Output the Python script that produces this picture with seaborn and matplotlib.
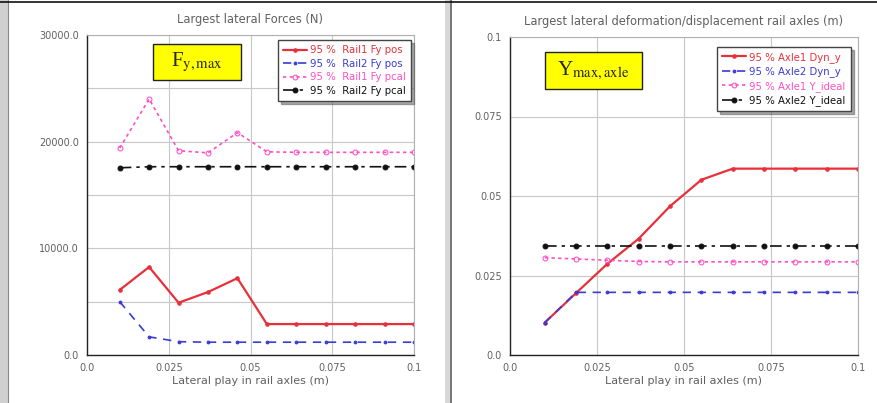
import numpy as np
import pandas as pd
import matplotlib
matplotlib.use("Agg")
import matplotlib.pyplot as plt
import seaborn as sns
from matplotlib.patches import Rectangle
from matplotlib.lines import Line2D

# --------------------------
# Data
# --------------------------
play = [0.010, 0.019, 0.028, 0.037, 0.046, 0.055, 0.064, 0.073, 0.082, 0.091, 0.100]

# left panel: largest lateral forces (N)
force_red = [6100, 8250, 4900, 5900, 7200, 2900, 2900, 2900, 2900, 2900, 2900]
force_blue = [5000, 1700, 1250, 1200, 1200, 1200, 1200, 1200, 1200, 1200, 1200]
force_pink = [19400, 24000, 19150, 18950, 20850, 19050, 19000, 19000, 19000, 19000, 19000]
force_black = [17550, 17650, 17650, 17650, 17650, 17650, 17650, 17650, 17650, 17650, 17650]
force_labels = ["95 %  Rail1 Fy pos", "95 %  Rail2 Fy pos", "95 %  Rail1 Fy pcal", "95 %  Rail2 Fy pcal"]

# right panel: largest lateral displacement (m)
disp_red = [0.0102, 0.0195, 0.0287, 0.0366, 0.0468, 0.0551, 0.0586, 0.0586, 0.0586, 0.0586, 0.0586]
disp_blue = [0.0102, 0.0197, 0.0197, 0.0197, 0.0197, 0.0197, 0.0197, 0.0197, 0.0197, 0.0197, 0.0197]
disp_pink = [0.0306, 0.0302, 0.0298, 0.0294, 0.0293, 0.0293, 0.0293, 0.0293, 0.0293, 0.0293, 0.0293]
disp_black = [0.0344, 0.0344, 0.0344, 0.0344, 0.0344, 0.0344, 0.0344, 0.0344, 0.0344, 0.0344, 0.0344]
disp_labels = ["95 % Axle1 Dyn_y", "95 % Axle2 Dyn_y", "95 % Axle1 Y_ideal", "95 % Axle2 Y_ideal"]

x_ticks = [0.0, 0.025, 0.05, 0.075, 0.1]
x_ticklabels = ["0.0", "0.025", "0.05", "0.075", "0.1"]
f_ticks = [0, 10000, 20000, 30000]
f_ticklabels = ["0.0", "10000.0", "20000.0", "30000.0"]
d_ticks = [0.0, 0.025, 0.05, 0.075, 0.1]
d_ticklabels = ["0.0", "0.025", "0.05", "0.075", "0.1"]

sns.set_style("white")
plt.rcParams['font.family'] = ['DejaVu Sans']
plt.rcParams['mathtext.fontset'] = 'stix'

styles = [
    dict(color="#e8303a", linestyle="-", marker="o", markersize=2.5, linewidth=1.6),
    dict(color="#3a3ad6", linestyle=(0, (5, 4)), marker="o", markersize=2, linewidth=1.2),
    dict(color="#ff4fc4", linestyle=(0, (2, 2)), marker="o", markersize=3.5,
         markerfacecolor="none", linewidth=1.2),
    dict(color="#111111", linestyle=(0, (7, 3, 2, 3)), marker="o", markersize=3.5, linewidth=1.2),
]

txt_col = "#606060"

fig = plt.figure(figsize=(8.78, 4.03), dpi=100)
W, H = 878.0, 403.0


def px_axes(x0, y0, x1, y1):
    return fig.add_axes([x0 / W, 1 - y1 / H, (x1 - x0) / W, (y1 - y0) / H])


ax1 = px_axes(87, 35, 414, 355)
ax2 = px_axes(510, 37, 858, 355)


def draw(ax, series, labels):
    for vals, lab, st in zip(series, labels, styles):
        df = pd.DataFrame({"x": play, "y": vals})
        sns.lineplot(data=df, x="x", y="y", ax=ax, label=lab,
                     markeredgecolor=st["color"], **st)


draw(ax1, [force_red, force_blue, force_pink, force_black], force_labels)
draw(ax2, [disp_red, disp_blue, disp_pink, disp_black], disp_labels)

for ax in (ax1, ax2):
    ax.set_xlim(0, 0.1)
    ax.set_xticks(x_ticks)
    ax.set_xticklabels(x_ticklabels)
    ax.set_xlabel("Lateral play in rail axles (m)", fontsize=8, color=txt_col, labelpad=2)
    ax.set_ylabel("")
    ax.grid(True, which="both", color="#c8c8c8", linewidth=0.8)
    ax.tick_params(axis="both", labelsize=7, colors=txt_col, direction="inout",
                   length=5, width=0.8)
    ax.tick_params(axis="both", which="minor", direction="inout", length=4, width=0.8)
    for side in ("top", "right"):
        ax.spines[side].set_color("#b0b0b0")
        ax.spines[side].set_linewidth(0.8)
    for side in ("left", "bottom"):
        ax.spines[side].set_color("#222222")
        ax.spines[side].set_linewidth(1.0)
    for lab in ax.get_xticklabels() + ax.get_yticklabels():
        lab.set_color(txt_col)

ax1.set_ylim(0, 30000)
ax1.set_yticks(f_ticks)
ax1.set_yticklabels(f_ticklabels)
ax1.set_yticks([5000, 15000, 25000], minor=True)
ax1.set_title("Largest lateral Forces (N)", fontsize=8.3, color=txt_col, pad=9)

ax2.set_ylim(0, 0.1)
ax2.set_yticks(d_ticks)
ax2.set_yticklabels(d_ticklabels)
ax2.set_title("Largest lateral deformation/displacement rail axles (m)", fontsize=8.3,
              color=txt_col, pad=9)

for ax, anchor in ((ax1, (0.997, 0.99)), (ax2, (0.985, 0.975))):
    leg = ax.legend(loc="upper right", bbox_to_anchor=anchor, fontsize=7.3,
                    frameon=True, fancybox=False, shadow={"color": "#555555"},
                    handlelength=2.4, handletextpad=0.3, labelspacing=0.35,
                    borderpad=0.5, borderaxespad=0.2)
    leg.get_frame().set_edgecolor("#444444")
    leg.get_frame().set_linewidth(1.0)
    for t, st in zip(leg.get_texts(), styles):
        t.set_color(st["color"])

# yellow labels (box drawn in pixel coordinates of the figure)
for (x0, y0, x1, y1), label in (((153, 44, 241, 80), r"F$_{\mathrm{y,max}}$"),
                                ((545, 52, 642, 89), r"Y$_{\mathrm{max,axle}}$")):
    fig.patches.append(Rectangle((x0 / W, 1 - y1 / H), (x1 - x0) / W, (y1 - y0) / H,
                                 transform=fig.transFigure, facecolor="#ffff00",
                                 edgecolor="#222222", linewidth=1.0, zorder=5))
    fig.text((x0 + x1) / 2 / W, 1 - (y0 + y1) / 2 / H, label, fontsize=15,
             family="Liberation Serif", ha="center", va="center", zorder=6)

# frame decorations
fig.patches.append(Rectangle((0, 0), 8 / W, 1, transform=fig.transFigure,
                             facecolor="#d0d0d0", edgecolor="none", zorder=0))
fig.patches.append(Rectangle((445 / W, 0), 7 / W, 1, transform=fig.transFigure,
                             facecolor="#d8d8d8", edgecolor="none", zorder=0))
fig.lines.append(Line2D([8 / W, 8 / W], [0, 1], transform=fig.transFigure,
                        color="#888888", linewidth=0.8))
fig.lines.append(Line2D([451 / W, 451 / W], [0, 1], transform=fig.transFigure,
                        color="#666666", linewidth=1.2))
fig.lines.append(Line2D([0, 1], [1 - 2 / H, 1 - 2 / H], transform=fig.transFigure,
                        color="#111111", linewidth=1.2))

fig.savefig("out.png", dpi=100)
